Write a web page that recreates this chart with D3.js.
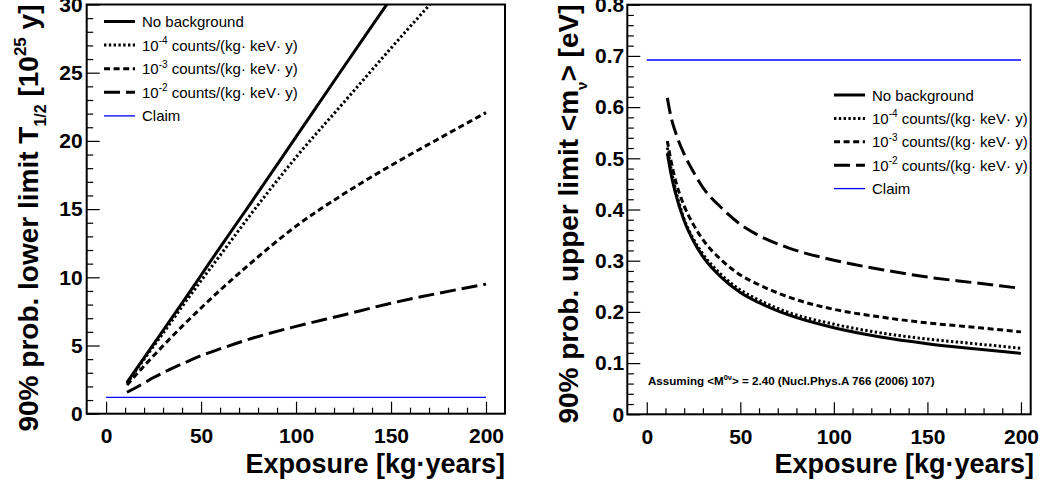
<!DOCTYPE html>
<html>
<head>
<meta charset="utf-8">
<script src="https://cdn.jsdelivr.net/npm/d3@7"></script>
<style>
  html, body { margin: 0; padding: 0; background: #fff; }
  svg { display: block; font-family: "Liberation Sans", Arial, Helvetica, sans-serif; }
</style>
</head>
<body>
<svg id="chart" width="1055" height="486"></svg>
<script>
// ---- data -------------------------------------------------------------
// Exposure grid [kg·years]
const exposureT = [11, 20, 25, 30, 40, 50, 60, 75, 100, 125, 150, 175, 200];
const exposureM = [11, 13, 15, 20, 25, 30, 40, 50, 60, 75, 100, 125, 150, 175, 200];

// 90% lower limit on T1/2 [1e25 y]
const halfLifeNoBkg = [2.3, 4.1, 5.1, 6.1, 8.1, 10.15, 12.2, 15.2, 20.3, 25.4, 30.45, 35.5, 40.6];
const halfLifeBkg4  = [2.2, 4.0, 4.95, 5.9, 7.85, 9.75, 11.6, 14.4, 18.8, 22.8, 26.8, 30.7, 34.5];
const halfLifeBkg3  = [2.1, 3.5, 4.25, 4.98, 6.4, 7.75, 9.05, 10.9, 13.75, 16.1, 18.2, 20.15, 22.07];
const halfLifeBkg2  = [1.57, 2.25, 2.65, 3.0, 3.65, 4.25, 4.75, 5.45, 6.4, 7.24, 8.1, 8.83, 9.5];
const halfLifeClaim = 1.2;

// 90% upper limit on <m_nu> [eV]
const massNoBkg = [0.51, 0.469, 0.437, 0.378, 0.338, 0.308, 0.267, 0.238, 0.218, 0.195, 0.169, 0.151, 0.138, 0.128, 0.119];
const massBkg4  = [0.521, 0.479, 0.445, 0.381, 0.342, 0.313, 0.272, 0.243, 0.223, 0.200, 0.176, 0.159, 0.147, 0.138, 0.129];
const massBkg3  = [0.534, 0.494, 0.462, 0.407, 0.370, 0.341, 0.301, 0.272, 0.253, 0.230, 0.205, 0.190, 0.1785, 0.170, 0.161];
const massBkg2  = [0.618, 0.58, 0.555, 0.508, 0.473, 0.443, 0.403, 0.371, 0.349, 0.326, 0.301, 0.283, 0.268, 0.257, 0.246];
const massClaim = 0.692;
const claimRange = [0, 200];

// axis ticks
const xTickLabels = [0, 50, 100, 150, 200];
const halfLifeTicks = [0, 5, 10, 15, 20, 25, 30];
const massTicks = [0, 0.1, 0.2, 0.3, 0.4, 0.5, 0.6, 0.7, 0.8];

// legend
const legendLabels = [
  { base: "No background" },
  { pre: "10", sup: "-4", post: " counts/(kg\u00b7 keV\u00b7 y)" },
  { pre: "10", sup: "-3", post: " counts/(kg\u00b7 keV\u00b7 y)" },
  { pre: "10", sup: "-2", post: " counts/(kg\u00b7 keV\u00b7 y)" },
  { base: "Claim" }
];

// ---- styles -------------------------------------------------------------
const curveStyles = [
  { dash: null },
  { dash: "2.4,2.4" },
  { dash: "6,3.6" },
  { dash: "16,6" }
];
const claimColor = "#0000ff";
const tickFont = 21;

const svg = d3.select("#chart");

function drawPanel(cfg) {
  const g = svg.append("g");
  const x = d3.scaleLinear().domain(cfg.xDomain).range(cfg.xRange);
  const y = d3.scaleLinear().domain(cfg.yDomain).range(cfg.yRange);
  const [x0, x1] = cfg.xRange;
  const [y0, y1] = cfg.yRange;

  const clipId = cfg.id + "-clip";
  g.append("clipPath").attr("id", clipId)
    .append("rect").attr("x", x0).attr("y", y1).attr("width", x1 - x0).attr("height", y0 - y1);

  // minor + major ticks, drawn inside the frame
  const yMinor = d3.range(cfg.yMinorCount + 1).map(i => cfg.yDomain[0] + i * cfg.yMinorStep)
    .filter(v => !cfg.yTicks.some(t => Math.abs(t - v) < 1e-9));
  const xMinor = d3.range(0, 201, 10).filter(v => !xTickLabels.includes(v));

  const tickStyle = sel => {
    sel.select(".domain").remove();
    sel.selectAll(".tick line").attr("stroke", "#000").attr("stroke-width", 1.2);
  };

  g.append("g").attr("transform", `translate(${x0},0)`)
    .call(d3.axisLeft(y).tickValues(yMinor).tickSizeInner(-6.5).tickSizeOuter(0).tickFormat(() => ""))
    .call(tickStyle);
  g.append("g").attr("transform", `translate(0,${y0})`)
    .call(d3.axisBottom(x).tickValues(xMinor).tickSizeInner(-6).tickSizeOuter(0).tickFormat(() => ""))
    .call(tickStyle);

  const yAxis = g.append("g").attr("transform", `translate(${x0},0)`)
    .call(d3.axisLeft(y).tickValues(cfg.yTicks).tickSizeInner(-13).tickSizeOuter(0)
      .tickPadding(cfg.yLabelPad).tickFormat(cfg.yFormat))
    .call(tickStyle);
  yAxis.selectAll("text").attr("font-size", tickFont).attr("font-weight", "bold")
    .attr("font-family", "Liberation Sans, Arial, sans-serif").attr("fill", "#000");

  const xAxis = g.append("g").attr("transform", `translate(0,${y0})`)
    .call(d3.axisBottom(x).tickValues(xTickLabels).tickSizeInner(-12).tickSizeOuter(0)
      .tickPadding(14.4).tickFormat(d3.format("d")))
    .call(tickStyle);
  xAxis.selectAll("text").attr("font-size", tickFont).attr("font-weight", "bold")
    .attr("font-family", "Liberation Sans, Arial, sans-serif").attr("fill", "#000");

  // claim line
  g.append("line")
    .attr("x1", x(claimRange[0])).attr("x2", x(claimRange[1]))
    .attr("y1", y(cfg.claim)).attr("y2", y(cfg.claim))
    .attr("stroke", claimColor).attr("stroke-width", 1.3);

  // limit curves
  const line = d3.line().curve(d3.curveMonotoneX).x(d => x(d[0])).y(d => y(d[1]));
  const plot = g.append("g").attr("clip-path", `url(#${clipId})`);
  cfg.series.forEach((vals, i) => {
    plot.append("path")
      .datum(cfg.xs.map((e, k) => [e, vals[k]]))
      .attr("d", line)
      .attr("fill", "none")
      .attr("stroke", "#000")
      .attr("stroke-width", 3)
      .attr("stroke-dasharray", curveStyles[i].dash);
  });

  // frame
  g.append("rect")
    .attr("x", x0).attr("y", y1).attr("width", x1 - x0).attr("height", y0 - y1)
    .attr("fill", "none").attr("stroke", "#000").attr("stroke-width", 2);

  // legend
  const lg = g.append("g").attr("font-size", 15);
  legendLabels.forEach((lab, i) => {
    const ry = cfg.legend.y + i * cfg.legend.step;
    const isClaim = i === 4;
    lg.append("line")
      .attr("x1", cfg.legend.x).attr("x2", cfg.legend.x + 31)
      .attr("y1", ry).attr("y2", ry)
      .attr("stroke", isClaim ? claimColor : "#000")
      .attr("stroke-width", isClaim ? 1.3 : 3)
      .attr("stroke-dasharray", isClaim ? null : curveStyles[i].dash);
    const t = lg.append("text").attr("x", cfg.legend.x + 38).attr("y", ry + 5.5).attr("fill", "#000");
    if (lab.base) {
      t.text(lab.base);
    } else {
      t.append("tspan").text(lab.pre);
      t.append("tspan").attr("font-size", 10).attr("dy", -6.5).text(lab.sup);
      t.append("tspan").attr("dy", 6.5).text(lab.post);
    }
  });

  // axis titles
  g.append("text")
    .attr("x", cfg.xTitleEnd).attr("y", 473)
    .attr("text-anchor", "end").attr("font-size", 27).attr("font-weight", "bold")
    .text("Exposure [kg\u00b7years]");

  const yt = g.append("text")
    .attr("transform", `translate(${cfg.yTitleX},4.5) rotate(-90)`)
    .attr("text-anchor", "end").attr("font-size", 28).attr("font-weight", "bold");
  cfg.yTitle(yt);

  if (cfg.note) cfg.note(g, x, y);
}

drawPanel({
  id: "thalf",
  xDomain: [-10.2, 210], xRange: [86.7, 505],
  yDomain: [0, 30], yRange: [413.7, 4.5],
  yTicks: halfLifeTicks, yMinorStep: 1, yMinorCount: 30,
  yFormat: d3.format("d"), yLabelPad: 4,
  xs: exposureT,
  series: [halfLifeNoBkg, halfLifeBkg4, halfLifeBkg3, halfLifeBkg2],
  claim: halfLifeClaim,
  legend: { x: 104, y: 21.5, step: 23.6 },
  xTitleEnd: 505,
  yTitleX: 38,
  yTitle: t => {
    t.append("tspan").text("90% prob. lower limit T");
    t.append("tspan").attr("font-size", 16).attr("dy", 8).text("1/2");
    t.append("tspan").attr("dy", -8).text(" [10");
    t.append("tspan").attr("font-size", 17).attr("dy", -12).text("25");
    t.append("tspan").attr("dy", 12).text(" y]");
  }
});

drawPanel({
  id: "mass",
  xDomain: [-10.4, 205.2], xRange: [627.3, 1030.7],
  yDomain: [0, 0.8], yRange: [414.3, 4.7],
  yTicks: massTicks, yMinorStep: 0.02, yMinorCount: 40,
  yFormat: d => d === 0 ? "0" : d3.format(".1f")(d), yLabelPad: 3,
  xs: exposureM,
  series: [massNoBkg, massBkg4, massBkg3, massBkg2],
  claim: massClaim,
  legend: { x: 834, y: 95, step: 23.4 },
  xTitleEnd: 1034,
  yTitleX: 578,
  yTitle: t => {
    t.append("tspan").text("90% prob. upper limit <m");
    t.append("tspan").attr("font-size", 15).attr("dy", 9).text("\u03bd");
    t.append("tspan").attr("dy", -9).text("> [eV]");
  },
  note: (g) => {
    const n = g.append("text").attr("x", 648).attr("y", 385)
      .attr("font-size", 11.6).attr("font-weight", "bold");
    n.append("tspan").text("Assuming <M");
    n.append("tspan").attr("font-size", 7.5).attr("dy", -4.8).text("0\u03bd");
    n.append("tspan").attr("dy", 4.8).text("> = 2.40 (Nucl.Phys.A 766 (2006) 107)");
  }
});
</script>
</body>
</html>
